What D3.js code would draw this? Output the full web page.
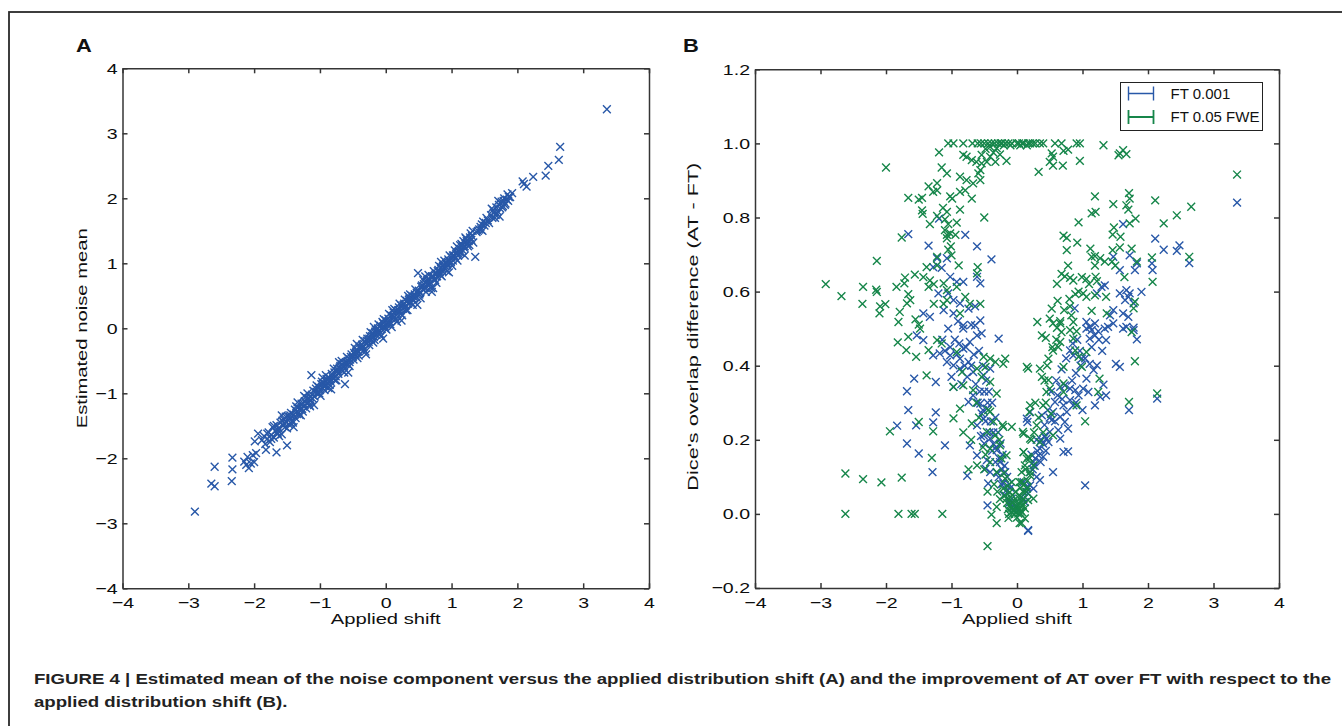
<!DOCTYPE html>
<html>
<head>
<meta charset="utf-8" />
<title>Figure 4</title>
<style>
html, body {
    padding: 0px;
    margin: 0px;
    background: #fff;
}
svg text {
    font-family: "Liberation Sans", Arial, Helvetica, sans-serif;
}
.axis path, .axis line {
    stroke: #353535;
    stroke-width: 1.5;
}
.axis text {
    font-size: 15.5px;
    fill: #0d0d0d;
}
</style>
</head>
<body>
<svg id="fig" width="1342" height="726"></svg>

<script src="https://cdn.jsdelivr.net/npm/d3@7"></script>
<script>
!(function(){
    "use strict"

    // ---- data ----
    var axisTicks = [-4, -3, -2, -1, 0, 1, 2, 3, 4]
    var diceTicks = [-0.2, 0, 0.2, 0.4, 0.6, 0.8, 1.0, 1.2]
    var seriesNames = ["FT 0.001", "FT 0.05 FWE"]

    // panel A : [applied shift, estimated noise mean]
    var noiseMean = [
        [-2.90,-2.82],[-2.65,-2.39],[-2.60,-2.43],[-2.60,-2.13],[-2.34,-2.35],[-2.33,-2.17],[-2.33,-1.99],
        [-2.15,-2.05],[-2.12,-2.10],[-2.10,-1.98],[-2.08,-2.15],[-2.05,-2.08],[-2.02,-1.95],[-2.00,-2.06],
        [-1.97,-1.92],[-1.94,-1.62],[-1.99,-1.74],[-1.82,-1.87],[-1.66,-1.91],[-1.50,-1.80],
        [-1.88,-1.72],[-1.85,-1.66],[-1.83,-1.78],[-1.80,-1.70],[-1.78,-1.60],[-1.76,-1.75],[-1.74,-1.64],
        [-1.72,-1.52],[-1.70,-1.68],[-1.68,-1.58],[-1.66,-1.49],[-1.64,-1.62],[-1.62,-1.55],[-1.60,-1.45],
        [-1.58,-1.63],[-1.56,-1.50],[-1.55,-1.40],[-1.53,-1.52],[-1.51,-1.44],[-1.49,-1.35],[-1.47,-1.48],
        [-1.45,-1.39],[-1.44,-1.30],[-1.42,-1.42],[-1.40,-1.33],[-1.38,-1.25],[-1.37,-1.38],[-1.35,-1.28],
        [-1.33,-1.22],[-1.31,-1.33],[-1.30,-1.24],[-1.28,-1.16],[-1.26,-1.28],[-1.25,-1.20],[-1.23,-1.12],
        [-1.21,-1.23],[-1.20,-1.15],[-1.18,-1.08],[-1.16,-1.18],[-1.14,-1.10],[-1.13,-0.72],
        [-1.12,-1.02],[-1.10,-0.96],[-1.08,-1.05],[-1.06,-0.93],[-1.04,-0.99],[-1.02,-0.90],[-1.00,-0.95],
        [-0.98,-0.86],[-0.96,-0.92],[-0.94,-0.84],[-0.92,-0.89],[-0.90,-0.78],[-0.88,-0.85],[-0.86,-0.76],
        [-0.84,-0.82],[-0.82,-0.70],[-0.80,-0.77],[-0.78,-0.68],[-0.76,-0.74],[-0.74,-0.62],[-0.72,-0.70],
        [-0.70,-0.60],[-0.68,-0.64],[-0.66,-0.55],[-0.64,-0.60],[-0.62,-0.86],[-0.60,-0.52],[-0.58,-0.50],
        [-0.56,-0.47],[-0.54,-0.48],[-0.52,-0.40],[-0.50,-0.44],[-0.48,-0.38],[-0.46,-0.41],[-0.44,-0.33],
        [-0.42,-0.36],[-0.40,-0.28],[-0.38,-0.32],[-0.36,-0.25],[-0.34,-0.29],[-0.32,-0.20],[-0.30,-0.24],
        [-0.28,-0.16],[-0.26,-0.21],[-0.24,-0.12],[-0.22,-0.17],[-0.20,-0.08],[-0.18,-0.13],[-0.16,-0.05],
        [-0.14,-0.10],[-0.12,0.00],[-0.10,-0.04],[-0.08,0.04],[-0.06,-0.01],[-0.04,0.08],[-0.02,0.03],
        [0.00,0.12],[0.02,0.06],[0.04,0.15],[0.06,0.10],[0.08,0.20],[0.10,0.14],[0.12,0.24],[0.14,0.18],
        [0.16,0.27],[0.18,0.22],[0.20,0.32],[0.22,0.26],[0.24,0.35],[0.26,0.30],[0.28,0.38],[0.30,0.34],
        [0.32,0.42],[0.34,0.38],[0.36,0.46],[0.38,0.40],[0.40,0.50],[0.42,0.44],[0.44,0.52],[0.46,0.48],
        [0.49,0.85],[0.50,0.58],[0.52,0.54],[0.54,0.64],[0.56,0.60],[0.58,0.68],[0.60,0.63],[0.62,0.72],
        [0.64,0.67],[0.66,0.76],[0.68,0.70],[0.70,0.56],[0.72,0.80],[0.74,0.76],[0.76,0.84],[0.78,0.80],
        [0.80,0.90],[0.82,0.86],[0.84,0.94],[0.86,0.88],[0.88,0.98],[0.90,0.92],[0.92,1.00],[0.94,0.96],
        [0.96,1.04],[0.98,1.00],[1.00,1.09],[1.02,1.04],[1.04,1.12],[1.06,1.08],[1.08,1.16],[1.10,1.12],
        [1.12,1.22],[1.14,1.16],[1.16,1.28],[1.18,1.34],[1.20,1.26],[1.22,1.38],[1.24,1.30],[1.26,1.34],
        [1.28,1.40],[1.30,1.36],[1.36,1.10],[1.40,1.50],[1.44,1.56],[1.48,1.64],[1.50,1.58],[1.52,1.62],
        [1.60,1.74],[1.64,1.78],[1.66,1.70],[1.68,1.86],[1.70,1.80],[1.72,1.90],[1.74,1.84],[1.76,1.95],
        [1.78,1.88],[1.80,2.00],[1.82,1.92],[1.84,1.98],[1.87,2.02],[1.89,2.02],
        [2.08,2.26],[2.10,2.22],[2.14,2.18],[2.24,2.33],[2.43,2.35],[2.47,2.50],[2.63,2.59],[2.65,2.79],[3.36,3.37],
        [-1.80,-1.62],[-1.74,-1.70],[-1.65,-1.56],[-1.57,-1.42],[-1.50,-1.54],[-1.46,-1.36],[-1.41,-1.45],
        [-1.36,-1.20],[-1.32,-1.30],[-1.27,-1.24],[-1.22,-1.06],[-1.17,-1.14],[-1.11,-1.08],[-1.07,-0.98],
        [-1.01,-1.00],[-0.97,-0.82],[-0.93,-0.95],[-0.89,-0.80],[-0.85,-0.87],[-0.81,-0.74],[-0.77,-0.80],
        [-0.73,-0.66],[-0.69,-0.58],[-0.65,-0.66],[-0.61,-0.55],[-0.57,-0.56],[-0.53,-0.44],[-0.49,-0.48],
        [-0.45,-0.36],[-0.41,-0.42],[-0.37,-0.30],[-0.33,-0.33],[-0.29,-0.19],[-0.25,-0.26],[-0.21,-0.12],
        [-0.17,-0.18],[-0.13,-0.06],[-0.09,-0.08],[-0.05,0.02],[-0.01,0.00],[0.03,0.10],[0.07,0.06],
        [0.11,0.19],[0.15,0.14],[0.19,0.28],[0.23,0.22],[0.27,0.36],[0.31,0.28],[0.35,0.44],[0.39,0.46],
        [0.43,0.48],[0.47,0.55],[0.51,0.52],[0.55,0.66],[0.59,0.62],[0.63,0.74],[0.67,0.68],[0.71,0.78],
        [0.75,0.74],[0.79,0.88],[0.83,0.82],[0.87,0.96],[0.91,0.95],[0.95,1.06],[0.99,1.02],[1.03,1.10],
        [1.07,1.14],[1.11,1.18],[1.15,1.30],[1.19,1.24],[1.23,1.34],[1.27,1.28],[1.31,1.42],[1.42,1.52],
        [1.46,1.60],[1.55,1.66],[1.62,1.70],[1.69,1.76],[1.75,1.92],[1.79,1.96],[1.85,2.06],
        [-1.70,-1.50],[-1.62,-1.66],[-1.52,-1.36],[-1.44,-1.46],[-1.34,-1.14],[-1.29,-1.34],[-1.19,-1.00],
        [-1.15,-1.20],[-1.05,-0.88],[-0.99,-1.04],[-0.91,-0.72],[-0.87,-0.92],[-0.79,-0.62],[-0.75,-0.80],
        [-0.67,-0.50],[-0.63,-0.68],[-0.59,-0.44],[-0.55,-0.58],[-0.47,-0.30],[-0.43,-0.46],[-0.35,-0.18],
        [-0.31,-0.36],[-0.23,-0.06],[-0.19,-0.22],[-0.11,0.06],[-0.07,-0.12],[-0.03,0.14],[0.01,-0.02],
        [0.05,0.22],[0.09,0.02],[0.13,0.30],[0.17,0.10],[0.21,0.38],[0.25,0.20],[0.29,0.44],[0.33,0.28],
        [0.37,0.52],[0.41,0.36],[0.45,0.60],[0.53,0.46],[0.57,0.74],[0.61,0.56],[0.65,0.82],[0.69,0.62],
        [0.73,0.88],[0.77,0.70],[0.81,0.96],[0.85,0.80],[0.89,1.04],[0.93,0.88],[0.97,1.12],[1.01,0.96],
        [1.05,1.20],[1.09,1.04],[1.13,1.28],[1.17,1.20],[1.21,1.40],[1.25,1.26],[1.29,1.46],[1.33,1.32],
        [1.38,1.48],[1.45,1.52],[1.53,1.70],[1.57,1.62],[1.63,1.82],[1.67,1.74],[1.71,1.96],[1.77,1.86],
        [1.81,1.90],[1.86,1.96],[1.92,2.08],
        [-0.15,-0.02],[-0.05,0.10],[0.05,0.08],[0.12,0.16],[0.20,0.28],[0.28,0.32],[0.36,0.40],[0.44,0.50],
        [0.62,0.68],[0.70,0.80],[0.78,0.84],[0.86,0.92],[0.94,1.00],[1.02,1.12],[1.10,1.16],[1.18,1.26],
        [-0.25,-0.16],[-0.35,-0.30],[-0.45,-0.38],[-0.55,-0.52],[-0.65,-0.58],[-0.75,-0.66],[-0.85,-0.80],
        [-0.95,-0.88],[-1.05,-1.00],[-1.15,-1.06],[-1.25,-1.16],[-1.35,-1.32],[-1.45,-1.34],[-1.55,-1.46],
        [-1.65,-1.60],
        [-1.58,-1.34],[-1.40,-1.52],[-1.24,-1.04],[-1.09,-1.18],[-0.96,-0.76],[-0.83,-0.94],[-0.71,-0.52],
        [-0.57,-0.68],[-0.44,-0.24],[-0.30,-0.40],[-0.18,0.02],[-0.04,-0.16],[0.10,0.28],[0.24,0.12],
        [0.34,0.50],[0.48,0.36],[0.60,0.80],[0.72,0.62],[0.84,1.02],[0.96,0.86],[1.08,1.26],[1.20,1.12],
        [1.32,1.50],[1.47,1.50],[1.61,1.84],[1.73,1.72]
    ]

    // panel B, FT 0.001 : [applied shift, dice difference]
    var diceFT001 = [
        [-1.19,0.797],[-1.66,0.755],[-1.35,0.724],[-0.79,0.753],[-0.61,0.722],[-0.39,0.687],[-1.22,0.69],
        [-1.07,0.69],[-1.28,0.666],[-1.15,0.664],[-1.02,0.640],[-0.92,0.626],[-0.82,0.626],[-0.61,0.640],
        [-0.56,0.622],[-1.20,0.595],[-1.05,0.595],[-0.97,0.577],[-0.87,0.568],[-1.12,0.550],[-0.97,0.541],
        [-0.74,0.554],[-1.43,0.541],[-1.33,0.532],[-0.82,0.509],[-0.64,0.509],[-0.56,0.522],
        [-1.53,0.482],[-1.43,0.469],[-1.28,0.428],[-1.18,0.433],[-1.02,0.428],[-1.07,0.410],[-0.97,0.401],
        [-0.87,0.419],[-0.82,0.446],[-0.72,0.464],[-0.61,0.482],[-0.54,0.487],[-0.82,0.50],[-0.28,0.473],
        [-0.87,0.392],[-0.74,0.410],[-0.67,0.383],[-0.51,0.374],[-0.41,0.392],[-1.57,0.365],[-1.24,0.356],
        [-0.97,0.343],[-1.68,0.331],[-1.66,0.280],[-1.24,0.274],[-1.28,0.247],[-1.83,0.238],[-1.54,0.239],
        [-1.68,0.19],[-1.50,0.163],[-1.10,0.185],[-1.29,0.113],[-0.76,0.103],[-0.74,0.302],[-0.67,0.32],
        [-0.56,0.298],[-0.54,0.271],[-0.51,0.257],[-0.46,0.284],[-0.61,0.239],[-0.51,0.212],[-0.41,0.203],
        [-0.36,0.189],[-0.31,0.172],[-0.72,0.185],[-0.61,0.158],[-0.46,0.145],[-0.48,0.122],[-0.41,0.113],
        [-0.28,0.099],[-0.21,0.082],[-0.16,0.064],[-0.08,0.041],[-0.44,0.082],[-0.45,0.023],[-0.18,0.113],
        [-0.26,0.140],[0.17,-0.044],[0.15,0.257],[0.10,0.086],[0.15,0.059],[0.20,0.077],[0.12,0.032],
        [-0.12,0.030],[-0.05,0.020],[0.02,0.012],[0.06,0.045],[-0.10,0.070],[-0.20,0.050],
        [-0.58,0.44],[-0.52,0.40],[-0.47,0.36],[-0.43,0.33],[-0.38,0.30],[-0.33,0.26],[-0.29,0.22],
        [-0.25,0.19],[-0.22,0.16],[-0.19,0.13],[-0.15,0.10],[-0.12,0.08],[-0.50,0.33],[-0.45,0.30],
        [-0.40,0.25],[-0.36,0.22],[-0.32,0.18],[-0.27,0.15],[-0.23,0.12],[-0.60,0.30],[-0.55,0.21],
        [-0.50,0.19],[-0.66,0.43],[-0.70,0.40],[-0.78,0.45],[-0.88,0.46],[-0.95,0.47],[-1.10,0.44],
        [-1.00,0.37],[-0.85,0.35],
        [-1.14,0.47],[-1.02,0.45],[-0.92,0.43],[-0.80,0.40],[-0.76,0.37],[-0.63,0.35],[-0.57,0.33],
        [-0.52,0.28],[-0.48,0.25],[-0.42,0.22],[-0.38,0.17],[-0.33,0.14],[-0.30,0.11],[-0.24,0.08],
        [-0.64,0.56],[-0.70,0.51],[-0.90,0.52],[-1.05,0.50],
        [1.06,0.500],[1.14,0.496],[1.24,0.493],[1.34,0.5],[1.39,0.505],[1.62,0.5],[1.78,0.496],[1.83,0.471],
        [1.11,0.473],[1.19,0.482],[1.36,0.469],[0.81,0.441],[0.86,0.428],[0.99,0.419],[1.11,0.405],
        [1.17,0.388],[1.22,0.401],[1.51,0.405],[1.57,0.397],[1.06,0.365],[1.01,0.338],[1.09,0.329],
        [1.32,0.349],[1.36,0.32],[1.27,0.316],[0.66,0.343],[0.73,0.347],[0.81,0.338],[0.89,0.334],
        [0.94,0.32],[0.81,0.307],[0.86,0.293],[0.71,0.293],[0.76,0.275],[0.58,0.302],[0.55,0.275],
        [0.66,0.262],[0.53,0.253],[0.73,0.248],[0.78,0.230],[0.63,0.226],[0.50,0.221],[0.66,0.203],
        [0.45,0.203],[0.40,0.19],[0.48,0.194],[0.35,0.176],[0.33,0.158],[0.40,0.154],[0.71,0.167],
        [0.78,0.169],[0.55,0.113],[0.25,0.140],[0.20,0.113],[0.35,0.091],[0.15,0.073],[0.25,0.068],
        [0.17,0.055],[0.10,0.041],[1.04,0.077],[0.17,-0.046],[0.20,0.275],[0.16,0.248],[0.38,0.266],
        [1.71,0.280],[2.14,0.311],[1.19,0.293],
        [0.30,0.20],[0.28,0.15],[0.42,0.24],[0.47,0.28],[0.52,0.33],[0.60,0.36],[0.68,0.39],[0.75,0.42],
        [0.85,0.46],[0.92,0.47],[0.96,0.44],[1.14,0.45],[1.25,0.47],[1.30,0.44],[0.24,0.12],[0.30,0.10],
        [0.36,0.14],[0.22,0.16],[0.44,0.17],[0.58,0.25],
        [0.62,0.32],[0.69,0.31],[0.84,0.36],[0.90,0.38],[0.97,0.40],[1.04,0.42],[0.50,0.26],[0.42,0.21],
        [0.37,0.20],[0.31,0.17],[0.27,0.13],[0.90,0.30],[1.00,0.28],
        [1.62,0.782],[2.11,0.743],[2.24,0.713],[2.44,0.710],[2.48,0.725],[2.63,0.677],[3.36,0.840],
        [2.06,0.676],[2.07,0.658],[1.47,0.694],[1.72,0.698],[1.83,0.676],[1.57,0.658],[1.80,0.658],
        [1.29,0.613],[1.22,0.595],[1.34,0.617],[1.57,0.595],[1.67,0.604],[1.72,0.595],[1.70,0.586],
        [1.65,0.577],[1.90,0.599],[1.78,0.568],[0.88,0.555],[1.47,0.550],[1.42,0.536],[1.62,0.541],
        [1.70,0.532],[1.11,0.505],[1.19,0.514],[1.47,0.514],[1.67,0.505],[1.78,0.503],[1.06,0.518]
    ]

    // panel B, FT 0.05 FWE : [applied shift, dice difference]
    var diceFT005 = [
        [-1.05,1.0],[-0.97,1.0],[-0.82,1.0],[-0.68,1.0],[-0.60,1.0],[-0.55,1.0],[-0.50,1.0],[-0.44,1.0],
        [-0.39,1.0],[-0.34,1.0],[-0.29,1.0],[-0.23,1.0],[-0.18,1.0],[-0.13,1.0],[-0.08,1.0],[0.0,1.0],
        [0.03,1.0],[0.08,1.0],[0.10,1.0],[0.17,1.0],[0.24,1.0],[0.35,1.0],[0.40,1.0],[0.58,1.0],[0.68,1.0],
        [0.91,1.0],[0.96,1.0],[1.32,0.995],
        [-0.25,1.0],[-0.20,0.995],[-0.10,0.995],[0.05,0.995],[0.15,0.995],[0.20,1.0],[0.28,1.0],
        [-0.48,0.985],[-0.36,0.975],[-0.26,0.97],
        [0.53,0.973],[0.55,0.964],[0.50,0.95],[0.55,0.94],[0.70,0.94],[0.71,0.98],[0.78,0.983],[0.96,0.953],
        [0.33,0.923],[1.57,0.973],[1.62,0.982],[1.67,0.971],[1.55,0.968],[3.36,0.916],
        [-1.19,0.976],[-0.82,0.969],[-0.77,0.964],[-0.69,0.955],[-0.62,0.95],[-0.54,0.946],[-0.46,0.95],
        [-0.41,0.964],[-0.33,0.95],[-0.16,0.953],[-0.56,0.928],[-0.59,0.919],[-0.54,0.969],[-0.41,0.991],
        [-0.31,0.987],[-1.15,0.935],[-1.07,0.919],[-0.87,0.91],[-0.77,0.901],[-0.67,0.892],[-0.56,0.901],
        [-1.35,0.884],[-1.22,0.893],[-1.28,0.869],[-1.22,0.873],[-0.87,0.869],[-0.79,0.873],[-2.0,0.935],
        [-1.66,0.853],[-1.50,0.848],[-1.45,0.853],[-1.02,0.857],[-0.99,0.851],[-0.69,0.851],
        [-1.45,0.819],[-1.44,0.81],[-1.13,0.826],[-1.07,0.815],[-0.87,0.821],[-1.22,0.804],[-0.50,0.800],
        [-1.33,0.782],[-1.10,0.795],[-1.05,0.782],[-0.92,0.786],[-1.76,0.746],[-1.10,0.766],[-1.07,0.753],
        [-1.02,0.757],[-0.94,0.753],[-1.07,0.744],[-1.01,0.722],[-1.05,0.713],[-1.00,0.698],[-1.22,0.694],
        [-2.14,0.683],[-0.89,0.671],[-0.60,0.666],[-1.22,0.671],[-1.38,0.666],
        [-2.92,0.62],[-2.68,0.588],[-2.35,0.613],[-2.15,0.605],[-2.14,0.599],[-2.36,0.567],[-2.09,0.56],
        [-2.01,0.566],[-2.10,0.541],[-1.84,0.613],[-1.71,0.638],[-1.72,0.622],[-1.56,0.646],[-1.43,0.639],
        [-1.33,0.630],[-1.35,0.613],[-1.27,0.620],[-1.12,0.622],[-1.07,0.604],[-0.92,0.613],[-1.66,0.593],
        [-1.63,0.577],[-1.68,0.568],[-1.79,0.545],[-1.55,0.525],[-1.81,0.518],[-1.50,0.511],[-1.27,0.567],
        [-1.12,0.567],[-1.07,0.577],[-0.87,0.541],[-0.79,0.586],[-0.72,0.567],[-0.56,0.567],[-0.61,0.649],
        [-1.82,0.463],[-1.69,0.442],[-1.54,0.424],[-1.66,0.478],[-1.48,0.50],[-1.35,0.442],[-1.22,0.469],
        [-1.15,0.46],[-0.92,0.437],[-0.84,0.383],[-1.38,0.374],[-0.97,0.343],[-0.82,0.347],[-0.67,0.334],
        [-0.87,0.284],[-0.97,0.258],[-1.50,0.248],[-1.28,0.223],[-1.94,0.223],[-0.82,0.22],[-0.69,0.244],
        [-1.30,0.151],[-2.62,0.109],[-2.35,0.094],[-2.07,0.085],[-1.76,0.098],
        [-2.62,0.0],[-1.81,0.0],[-1.61,0.0],[-1.56,0.0],[-1.14,0.0],[-0.45,-0.087],
        [-0.51,0.424],[-0.41,0.419],[-0.33,0.41],[-0.18,0.419],[-0.21,0.405],[-0.48,0.397],[-0.61,0.392],
        [-0.54,0.370],[-0.41,0.356],[-0.31,0.325],[-0.41,0.276],[-0.36,0.249],[-0.46,0.221],[-0.21,0.235],
        [-0.08,0.235],[0.09,0.221],[-0.33,0.212],[-0.26,0.185],[-0.16,0.158],[-0.41,0.176],[-0.61,0.131],
        [-0.41,0.140],[-0.31,0.113],[-0.18,0.095],[-0.31,0.019],[-0.39,-0.002],[-0.31,-0.025],[-0.13,-0.011],
        [0.04,-0.025],[0.15,0.397],[0.10,0.167],[0.15,0.149],[0.20,0.113],[0.04,0.086],[0.10,0.059],[0.17,0.037],
        [-0.62,0.30],[-0.58,0.26],[-0.52,0.18],[-0.48,0.16],[-0.44,0.28],[-0.50,0.12],[-0.70,0.20],
        [-0.74,0.12],[-0.30,0.06],[-0.26,0.04],[-0.35,0.08],
        [-0.16,0.041],[-0.11,0.023],[-0.06,0.01],[-0.01,0.005],[0.04,0.014],[-0.08,0.032],[0.04,0.041],
        [0.09,0.023],[-0.11,0.059],[-0.21,0.068],[-0.08,0.086],[0.02,0.001],[-0.04,-0.002],[-0.02,0.020],
        [0.00,0.035],[0.06,0.008],[-0.14,0.012],[0.08,0.004],[-0.07,0.050],
        [-0.12,0.0],[-0.09,0.015],[-0.03,0.01],[0.01,0.025],[0.05,0.002],[0.09,0.04],[0.12,0.015],
        [-0.06,0.03],[0.03,0.05],[-0.15,0.03],[0.14,0.06],[-0.18,0.05],[0.00,-0.01],[0.06,0.02],
        [-0.10,0.045],[0.11,0.08],[-0.14,0.075],[0.16,0.09],
        [-0.20,0.11],[-0.24,0.15],[-0.27,0.20],[-0.22,0.24],[-0.45,0.06],[0.19,0.15],[0.22,0.20],
        [0.26,0.22],[0.13,0.12],[-0.02,0.06],[0.05,0.07],[-0.08,0.005],
        [0.38,0.482],[0.44,0.475],[0.61,0.502],[0.68,0.491],[0.81,0.496],[0.91,0.493],[0.66,0.464],[0.63,0.45],
        [0.55,0.441],[0.48,0.419],[0.86,0.473],[0.89,0.441],[1.06,0.437],[0.94,0.424],[0.71,0.397],[0.99,0.397],
        [0.17,0.392],[0.35,0.392],[0.38,0.37],[0.48,0.361],[0.45,0.329],[0.50,0.338],[1.26,0.365],[1.24,0.329],
        [1.80,0.412],[1.75,0.491],[0.71,0.352],[0.71,0.329],[1.71,0.302],[2.14,0.325],[0.20,0.293],[0.40,0.293],
        [0.19,0.275],[0.91,0.293],[1.04,0.250],[0.30,0.239],[0.10,0.216],[0.20,0.203],[0.35,0.194],[0.55,0.212],
        [0.10,0.167],[0.17,0.154],[0.12,0.131],[0.25,0.131],[0.07,0.113],[0.20,0.104],[0.07,0.086],[0.15,0.068],
        [0.25,0.041],[0.07,0.032],[0.12,-0.012],[0.07,-0.025],
        [0.28,0.30],[0.33,0.26],[0.42,0.36],[0.46,0.40],[0.54,0.45],[0.60,0.47],[0.66,0.52],[0.72,0.55],
        [0.80,0.58],[0.94,0.60],[1.10,0.62],[1.20,0.64],[0.40,0.22],[0.44,0.30],[0.52,0.27],
        [1.19,0.857],[1.47,0.836],[1.71,0.866],[1.72,0.851],[1.67,0.833],[1.70,0.821],[2.11,0.846],[1.14,0.811],
        [1.20,0.815],[0.94,0.787],[1.48,0.773],[1.46,0.754],[1.58,0.748],[1.72,0.784],[1.81,0.797],[2.24,0.784],
        [2.44,0.806],[2.66,0.829],[0.71,0.751],[0.76,0.745],[0.92,0.732],[0.76,0.712],[1.12,0.716],[1.46,0.712],
        [1.57,0.719],[1.75,0.716],[1.14,0.694],[1.19,0.696],[1.27,0.69],[1.34,0.681],[1.45,0.681],[1.50,0.67],
        [1.19,0.67],[1.83,0.681],[2.06,0.692],[2.63,0.694],[2.07,0.626],[1.64,0.639],[0.78,0.67],[0.68,0.648],
        [0.73,0.641],[0.81,0.637],[0.61,0.621],[0.86,0.63],[0.99,0.639],[1.06,0.634],[1.22,0.628],[0.89,0.593],
        [1.01,0.595],[1.06,0.586],[1.19,0.59],[1.36,0.586],[0.62,0.575],[0.53,0.554],[0.81,0.56],[1.14,0.548],
        [0.83,0.536],[1.80,0.573],[1.78,0.555],[0.31,0.518],[0.50,0.527],[0.55,0.514],[0.66,0.514],[0.86,0.518],
        [1.37,0.541]
    ]

    // ---- layout ----
    var svg = d3.select("#fig")
    var panelA = {left: 122.5, right: 649, top: 68.3, bottom: 588.3}
    var panelB = {left: 755, right: 1279, top: 69.3, bottom: 588}
    var blue = "#2858a8", green = "#16864a"
    var cross = "M-3.9,-3.9L3.9,3.9M-3.9,3.9L3.9,-3.9"
    var wide = 1.26   // the figure's lettering is set wider than the font

    // stretch a text to a wider set width (or to an exact length)
    function stretch(sel, k, len) {
        sel.each(function(){
            var n = d3.select(this)
            var w = len || this.getComputedTextLength() * k
            n.attr("textLength", w).attr("lengthAdjust", "spacingAndGlyphs")
        })
    }

    // outer figure frame
    svg.append("rect")
        .attr("x", 9).attr("y", 12)
        .attr("width", 1350).attr("height", 730)
        .attr("fill", "none")
        .attr("stroke", "#2a2a2a")
        .attr("stroke-width", 1.8)

    var xA = d3.scaleLinear().domain([-4, 4]).range([panelA.left, panelA.right])
    var yA = d3.scaleLinear().domain([-4, 4]).range([panelA.bottom, panelA.top])
    var xB = d3.scaleLinear().domain([-4, 4]).range([panelB.left, panelB.right])
    var yB = d3.scaleLinear().domain([-0.2, 1.2]).range([panelB.bottom, panelB.top])

    function drawBox(p, x, y, yTicks, yFmt) {
        var g = svg.append("g")
        g.append("g").attr("class", "axis")
            .attr("transform", "translate(0," + p.bottom + ")")
            .call(d3.axisBottom(x).tickValues(axisTicks).tickFormat(d3.format("d"))
                .tickSizeInner(-5).tickSizeOuter(0).tickPadding(9))
        g.append("g").attr("class", "axis")
            .attr("transform", "translate(0," + p.top + ")")
            .call(d3.axisTop(x).tickValues(axisTicks).tickFormat("")
                .tickSizeInner(-5).tickSizeOuter(0))
        g.append("g").attr("class", "axis")
            .attr("transform", "translate(" + p.left + ",0)")
            .call(d3.axisLeft(y).tickValues(yTicks).tickFormat(yFmt)
                .tickSizeInner(-5).tickSizeOuter(0).tickPadding(5))
        g.append("g").attr("class", "axis")
            .attr("transform", "translate(" + p.right + ",0)")
            .call(d3.axisRight(y).tickValues(yTicks).tickFormat("")
                .tickSizeInner(-5).tickSizeOuter(0))
        g.selectAll(".axis").attr("font-family", null).attr("font-size", null)
        stretch(g.selectAll(".axis text").filter(function(){ return this.textContent !== "" }), wide)
        return g
    }

    function drawCrosses(data, x, y, color) {
        svg.append("g").selectAll("path")
            .data(data)
            .enter()
            .append("path")
            .attr("d", cross)
            .attr("transform", function(d){ return "translate(" + x(d[0]) + "," + y(d[1]) + ")" })
            .attr("fill", "none")
            .attr("stroke", color)
            .attr("stroke-width", 1.4)
    }

    // panel A
    drawBox(panelA, xA, yA, axisTicks, d3.format("d"))
    drawCrosses(noiseMean, xA, yA, blue)

    // panel B
    drawBox(panelB, xB, yB, diceTicks, d3.format(".1f"))
    drawCrosses(diceFT001, xB, yB, blue)
    drawCrosses(diceFT005, xB, yB, green)

    // axis titles
    function label(txt, x, y, rot, len) {
        var t = svg.append("text")
            .attr("transform", "translate(" + x + "," + y + ")" + (rot ? " rotate(-90)" : ""))
            .attr("text-anchor", "middle")
            .attr("font-size", 15.5)
            .attr("fill", "#111")
            .text(txt)
        stretch(t, wide, len)
    }
    label("Applied shift", (panelA.left + panelA.right) / 2, 624, false, 110)
    label("Applied shift", (panelB.left + panelB.right) / 2, 624, false, 110)
    label("Estimated noise mean", 87, (panelA.top + panelA.bottom) / 2, true, 200)
    label("Dice's overlap difference (AT - FT)", 697.5, (panelB.top + panelB.bottom) / 2 - 2, true, 328)

    // panel letters
    ;[["A", 76], ["B", 683]].forEach(function(l){
        var t = svg.append("text").attr("x", l[1]).attr("y", 52)
            .attr("font-size", 19).attr("font-weight", "bold").attr("fill", "#111").text(l[0])
        stretch(t, 1.15)
    })

    // legend
    var leg = svg.append("g").attr("transform", "translate(1120.5,82.5)")
    leg.append("rect")
        .attr("width", 142).attr("height", 48)
        .attr("fill", "#fff")
        .attr("stroke", "#222")
        .attr("stroke-width", 1)
    var legColors = [blue, green]
    seriesNames.forEach(function(name, i){
        var cy = 11 + i * 23.5
        var item = leg.append("g").attr("transform", "translate(0," + cy + ")")
        item.append("path")
            .attr("d", "M8,0H33M8,-7V7M33,-7V7")
            .attr("fill", "none")
            .attr("stroke", legColors[i])
            .attr("stroke-width", i ? 1.8 : 1.4)
        item.append("text")
            .attr("x", 50).attr("y", 5.2)
            .attr("font-size", 15)
            .attr("fill", "#111")
            .text(name)
    })

    // caption
    var capLines = [
        "FIGURE 4 | Estimated mean of the noise component versus the applied distribution shift (A) and the improvement of AT over FT with respect to the",
        "applied distribution shift (B)."
    ]
    var capNodes = capLines.map(function(t, i){
        return svg.append("text")
            .attr("x", 34).attr("y", 684 + i * 23)
            .attr("font-size", 14.5)
            .attr("font-weight", "bold")
            .attr("fill", "#222")
            .text(t)
    })
    var natural = capNodes[0].node().getComputedTextLength()
    var factor = 1297 / natural
    capNodes.forEach(function(n){
        stretch(n, factor)
    })

}());
</script>
</body>
</html>
